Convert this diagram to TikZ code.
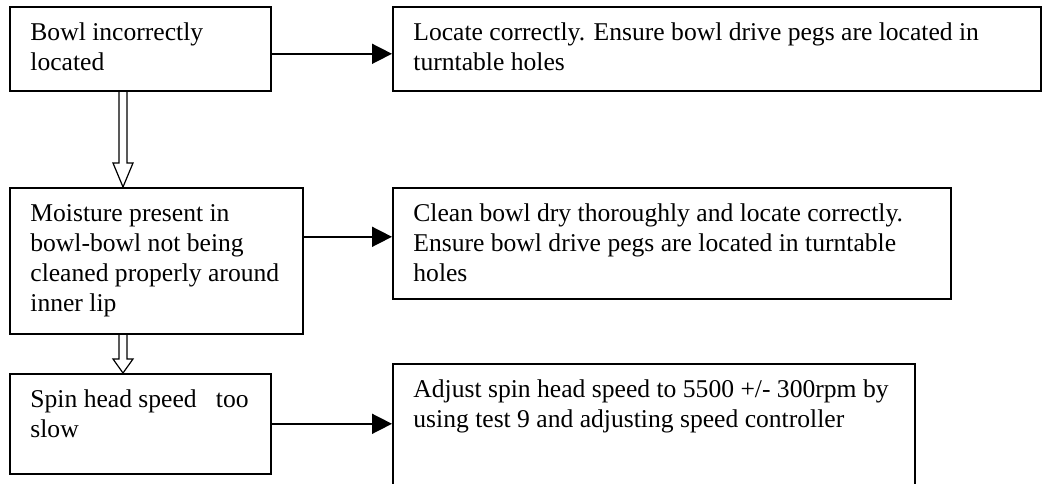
\documentclass[tikz,border=0pt]{standalone}
\usepackage{fontspec}
\setmainfont{Liberation Serif}
\usetikzlibrary{arrows.meta,positioning}

\tikzset{
  box/.style={draw,line width=0.8pt,anchor=north west,inner sep=0pt},
  txt/.style={anchor=north west,inner sep=0pt,align=left,
    font=\fontsize{12.8}{15}\selectfont},
  flow/.style={line width=0.8pt,-{Triangle[length=10pt,width=10pt]}},
  hollow/.style={line width=0.6pt}
}

\begin{document}
\begin{tikzpicture}[x=0.5pt,y=-0.5pt]
  \clip (0,0) rectangle (1042,483);

  % causes
  \node[box,minimum width=130.5pt,minimum height=42pt] (cause1) at (9,6) {};
  \node[box,minimum width=146.5pt,minimum height=73pt] (cause2) at (9,187) {};
  \node[box,minimum width=130.5pt,minimum height=50pt] (cause3) at (9,373) {};

  % remedies
  \node[box,minimum width=324pt,minimum height=42pt] (fix1) at (392,6) {};
  \node[box,minimum width=279pt,minimum height=55.5pt] (fix2) at (392,187) {};
  \node[box,minimum width=261pt,minimum height=67.5pt] (fix3) at (392,363) {};

  \node[txt] (cause1t) at ([shift={(10.5pt,-6.5pt)}]cause1.north west)
    {\strut Bowl incorrectly\\located};
  \node[txt] (cause2t) at ([shift={(10.5pt,-6.5pt)}]cause2.north west)
    {\strut Moisture present in\\bowl-bowl not being\\cleaned properly around\\inner lip};
  \node[txt] (cause3t) at ([shift={(10.5pt,-6.5pt)}]cause3.north west)
    {\strut Spin head speed\ \ \ too\\slow};

  \node[txt] (fix1t) at ([shift={(10.5pt,-6.5pt)}]fix1.north west)
    {\strut Locate correctly. Ensure bowl drive pegs are located in\\turntable holes};
  \node[txt] (fix2t) at ([shift={(10.5pt,-6.5pt)}]fix2.north west)
    {\strut Clean bowl dry thoroughly and locate correctly.\\Ensure bowl drive pegs are located in turntable\\holes};
  \node[txt] (fix3t) at ([shift={(10.5pt,-6.5pt)}]fix3.north west)
    {\strut Adjust spin head speed to 5500 +/- 300rpm by\\using test 9 and adjusting speed controller};

  % cause -> remedy
  \draw[flow] ([yshift=-2.5pt]cause1.east) -- ([yshift=-2.5pt]fix1.west);
  \draw[flow] ([yshift=12pt]cause2.east) -- ([yshift=12pt]cause2.east -| fix2.west);
  \draw[flow] (cause3.east) -- (cause3.east -| fix3.west);

  % hollow arrows down the left column
  \coordinate (mid) at (123,0);
  \coordinate (s1) at (cause1.south -| mid);
  \coordinate (e1) at (cause2.north -| mid);
  \coordinate (s2) at (cause2.south -| mid);
  \coordinate (e2) at (cause3.north -| mid);
  \draw[hollow] ([xshift=-2pt]s1) -- ([xshift=-2pt,yshift=12pt]e1)
    -- ([xshift=-5pt,yshift=12pt]e1) -- (e1) -- ([xshift=5pt,yshift=12pt]e1)
    -- ([xshift=2pt,yshift=12pt]e1) -- ([xshift=2pt]s1);
  \draw[hollow] ([xshift=-2pt]s2) -- ([xshift=-2pt,yshift=7pt]e2)
    -- ([xshift=-5pt,yshift=7pt]e2) -- (e2) -- ([xshift=5pt,yshift=7pt]e2)
    -- ([xshift=2pt,yshift=7pt]e2) -- ([xshift=2pt]s2);
\end{tikzpicture}
\end{document}
